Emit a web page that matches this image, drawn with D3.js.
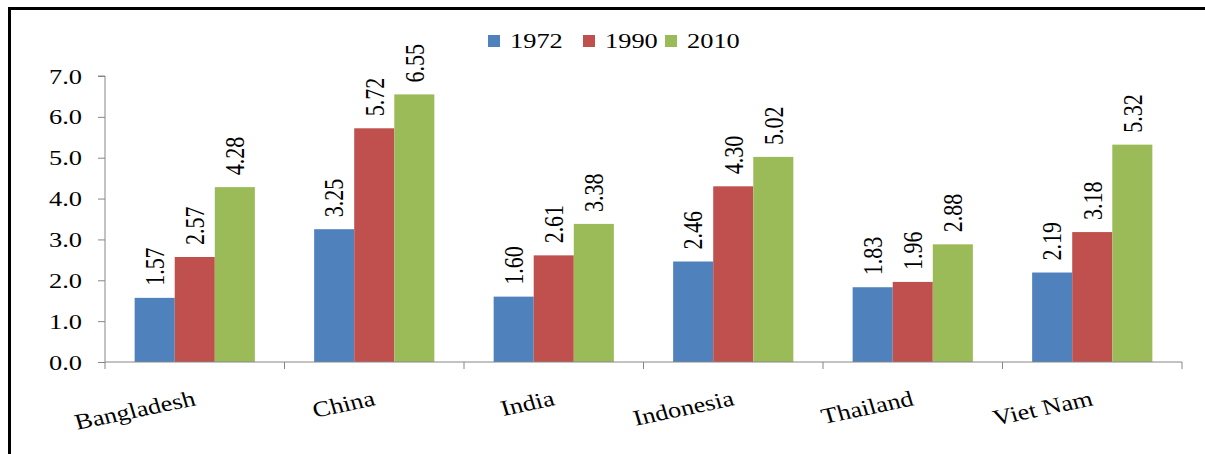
<!DOCTYPE html>
<html><head><meta charset="utf-8">
<script src="https://cdn.jsdelivr.net/npm/d3@7"></script>
<style>
body{margin:0;background:#fff;}
</style></head>
<body><svg id="c" width="1205" height="454"></svg>
<script>
const categories = ["Bangladesh","China","India","Indonesia","Thailand","Viet Nam"];
const seriesNames = ["1972","1990","2010"];
const v1972 = [1.57,3.25,1.60,2.46,1.83,2.19];
const v1990 = [2.57,5.72,2.61,4.30,1.96,3.18];
const v2010 = [4.28,6.55,3.38,5.02,2.88,5.32];
const yTicks = [0,1,2,3,4,5,6,7];
const colors = ["#4F81BD","#C0504D","#9BBB59"];
const seriesVals = [v1972,v1990,v2010];

const FF = "'Liberation Serif', 'Times New Roman', Tinos, serif";
const FS = 22, SX = 1.2;

const svg = d3.select("#c");
svg.append("rect").attr("x",9.5).attr("y",8.5).attr("width",1300).attr("height",600)
  .attr("fill","none").attr("stroke","#000").attr("stroke-width",3);

const pL=105,pR=1182,pT=76,pB=362;
const x = d3.scaleBand().domain(categories).range([pL,pR]).paddingInner(0).paddingOuter(0);
const xs = d3.scaleBand().domain(seriesNames).range([0,x.bandwidth()]).paddingInner(0).paddingOuter(0.74);
const y = d3.scaleLinear().domain([0,7]).range([pB,pT]);

function styleText(sel){ return sel.style("font-family",FF).style("font-size",FS+"px").style("fill","#000"); }

const g = svg.append("g");
seriesNames.forEach((s,si)=>{
  const vals = seriesVals[si];
  g.selectAll(".b"+si).data(categories).enter().append("rect")
    .attr("x",d=>x(d)+xs(s)).attr("width",xs.bandwidth())
    .attr("y",(d,i)=>y(vals[i])).attr("height",(d,i)=>y(0)-y(vals[i]))
    .attr("fill",colors[si]);
  styleText(g.selectAll(".l"+si).data(categories).enter().append("text")
    .attr("transform",(d,i)=>`translate(${x(d)+xs(s)+xs.bandwidth()/2},${y(vals[i])-12}) scale(${SX},1) rotate(-90)`)
    .attr("text-anchor","start").attr("dy","0.35em")
    .text((d,i)=>vals[i].toFixed(2)));
});

const ya = d3.axisLeft(y).tickValues(yTicks).tickFormat(d=>d.toFixed(1)).tickSize(7).tickPadding(0);
const yg = svg.append("g").attr("transform",`translate(${pL},0)`).call(ya);
yg.select(".domain").attr("stroke","#868686").attr("d",`M-7,${pT}H0V${pB}`);
yg.selectAll(".tick line").attr("stroke","#868686");
styleText(yg.selectAll(".tick text")).attr("x",null)
  .attr("transform",`translate(-23,0) scale(${SX},1)`);

const xa = d3.axisBottom(x).tickSize(0).tickFormat("");
const xg = svg.append("g").attr("transform",`translate(0,${pB})`).call(xa);
xg.select(".domain").attr("stroke","#868686").attr("d",`M${pL},0H${pR}`);
const bounds = d3.range(categories.length+1).map(i=>pL+i*x.step());
xg.selectAll(".xt").data(bounds).enter().append("line").attr("class","xt")
  .attr("x1",d=>d).attr("x2",d=>d).attr("y1",0).attr("y2",7).attr("stroke","#868686");
styleText(svg.selectAll(".xl").data(categories).enter().append("text").attr("class","xl")
  .attr("transform",d=>`translate(${x(d)+x.bandwidth()/2+2},${pB+43}) scale(${SX},1) rotate(-14)`)
  .attr("text-anchor","end").text(d=>d));

const lg = svg.append("g");
const lx = [488,583,665];
seriesNames.forEach((s,i)=>{
  lg.append("rect").attr("x",lx[i]).attr("y",35).attr("width",12).attr("height",12).attr("fill",colors[i]);
  styleText(lg.append("text").attr("transform",`translate(${lx[i]+22},48) scale(${SX},1)`).text(s));
});
</script></body></html>
